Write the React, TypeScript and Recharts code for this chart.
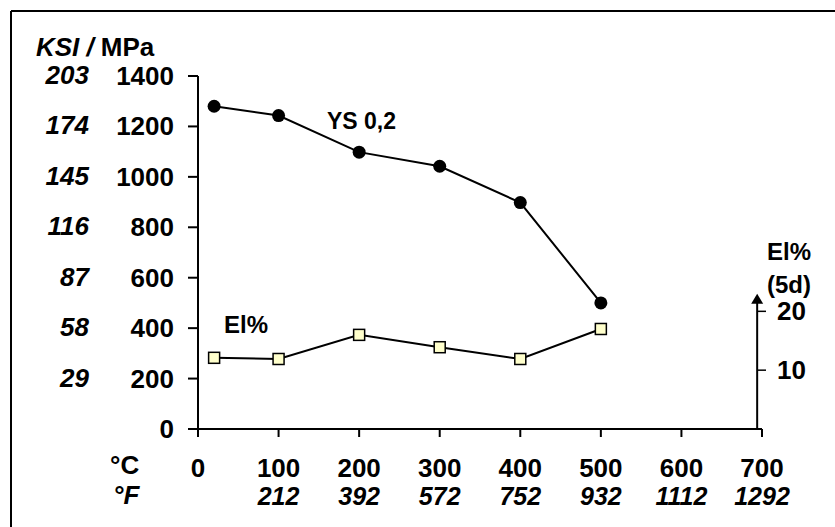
import { LineChart, Line, XAxis, YAxis, ReferenceLine } from "recharts";

const celsius = [20, 100, 200, 300, 400, 500];
const ysMpa = [1280, 1243, 1098, 1042, 898, 500];
const elPct = [12.1, 11.9, 16.0, 13.9, 11.9, 17.0];

const xTicks = [0, 100, 200, 300, 400, 500, 600, 700];
const fahrenheitLabels = ["", "212", "392", "572", "752", "932", "1112", "1292"];
const mpaTicks = [0, 200, 400, 600, 800, 1000, 1200, 1400];
const ksiLabels = ["", "29", "58", "87", "116", "145", "174", "203"];
const elTicks = [10, 20];

const data = celsius.map((c, i) => ({ c, ys: ysMpa[i], el: elPct[i] }));

const FONT = "'Liberation Sans', Arial, sans-serif";

function XTick(props: any) {
  const { x, y, payload } = props;
  const i = xTicks.indexOf(payload.value);
  return (
    <g fontFamily={FONT} fontWeight="bold" fill="#000">
      <text x={x} y={y + 40} textAnchor="middle" fontSize={26}>
        {payload.value}
      </text>
      <text x={x} y={y + 68} textAnchor="middle" fontSize={25} fontStyle="italic">
        {fahrenheitLabels[i]}
      </text>
    </g>
  );
}

function MpaTick(props: any) {
  const { x, y, payload } = props;
  const i = mpaTicks.indexOf(payload.value);
  return (
    <g fontFamily={FONT} fontWeight="bold" fill="#000">
      <text x={x} y={y + 9} textAnchor="end" fontSize={26}>
        {payload.value}
      </text>
      <text x={x - 85} y={y + 8} textAnchor="end" fontSize={26} fontStyle="italic">
        {ksiLabels[i]}
      </text>
    </g>
  );
}

function ElTick(props: any) {
  const { x, y, payload } = props;
  return (
    <g fontFamily={FONT} fontWeight="bold">
      <line x1={x - 5} y1={y} x2={x + 4} y2={y} stroke="#000" strokeWidth={1.5} />
      <text x={x + 15} y={y + 9} textAnchor="start" fontSize={26} fill="#000">
        {payload.value}
      </text>
    </g>
  );
}

function ArrowAxis(props: any) {
  const { x1, y1, x2, y2 } = props;
  return (
    <g>
      <line x1={x1} y1={y1} x2={x2} y2={y2 + 8} stroke="#000" strokeWidth={2} />
      <polygon points={`${x2},${y2} ${x2 - 6},${y2 + 10} ${x2 + 6},${y2 + 10}`} fill="#000" />
    </g>
  );
}

export default function App() {
  return (
    <div style={{ position: "absolute", left: 0, top: 0, width: 835, height: 527, background: "#fff" }}>
      <LineChart
        width={835}
        height={527}
        data={data}
        margin={{ top: 76, right: 72, bottom: 38, left: 138 }}
      >
        <XAxis
          dataKey="c"
          type="number"
          domain={[0, 700]}
          ticks={xTicks}
          height={60}
          tickSize={8}
          tickMargin={0}
          stroke="#000"
          strokeWidth={2}
          tick={<XTick />}
          interval={0}
        />
        <YAxis
          yAxisId="mpa"
          domain={[0, 1400]}
          ticks={mpaTicks}
          width={60}
          tickSize={10}
          tickMargin={14}
          stroke="#000"
          strokeWidth={2}
          tick={<MpaTick />}
          interval={0}
        />
        <YAxis
          yAxisId="el"
          orientation="right"
          domain={[0, 60]}
          ticks={elTicks}
          width={1}
          axisLine={false}
          tickLine={false}
          tickSize={0}
          tickMargin={0}
          tick={<ElTick />}
          interval={0}
        />
        <ReferenceLine
          yAxisId="el"
          segment={[
            { x: 694, y: 0 },
            { x: 694, y: 23 },
          ]}
          shape={<ArrowAxis />}
        />
        <Line
          yAxisId="mpa"
          dataKey="ys"
          stroke="#000"
          strokeWidth={2}
          isAnimationActive={false}
          dot={(p: any) => <circle key={`ys-${p.index}`} cx={p.cx} cy={p.cy} r={6.5} fill="#000" />}
        />
        <Line
          yAxisId="el"
          dataKey="el"
          stroke="#000"
          strokeWidth={2}
          isAnimationActive={false}
          dot={(p: any) => (
            <rect
              key={`el-${p.index}`}
              x={p.cx - 5.5}
              y={p.cy - 5.5}
              width={11}
              height={11}
              fill="#FFFFCC"
              stroke="#000"
              strokeWidth={1.5}
            />
          )}
        />
      </LineChart>
      <svg
        width={835}
        height={527}
        style={{ position: "absolute", left: 0, top: 0, pointerEvents: "none" }}
        fontFamily={FONT}
        fontWeight="bold"
        fontSize={26}
      >
        <line x1={11} y1={11} x2={835} y2={11} stroke="#000" strokeWidth={2} />
        <line x1={11} y1={11} x2={11} y2={527} stroke="#000" strokeWidth={2} />
        <text x={36} y={56}>
          <tspan fontStyle="italic">KSI /</tspan>
          <tspan dx={7}>MPa</tspan>
        </text>
        <text x={110} y={474}>°C</text>
        <text x={113} y={504} fontStyle="italic">°F</text>
        <text x={327} y={129} fontSize={23}>YS 0,2</text>
        <text x={224} y={333} fontSize={24}>El%</text>
        <text x={767} y={260} fontSize={24}>El%</text>
        <text x={767} y={293} fontSize={24}>(5d)</text>
      </svg>
    </div>
  );
}
